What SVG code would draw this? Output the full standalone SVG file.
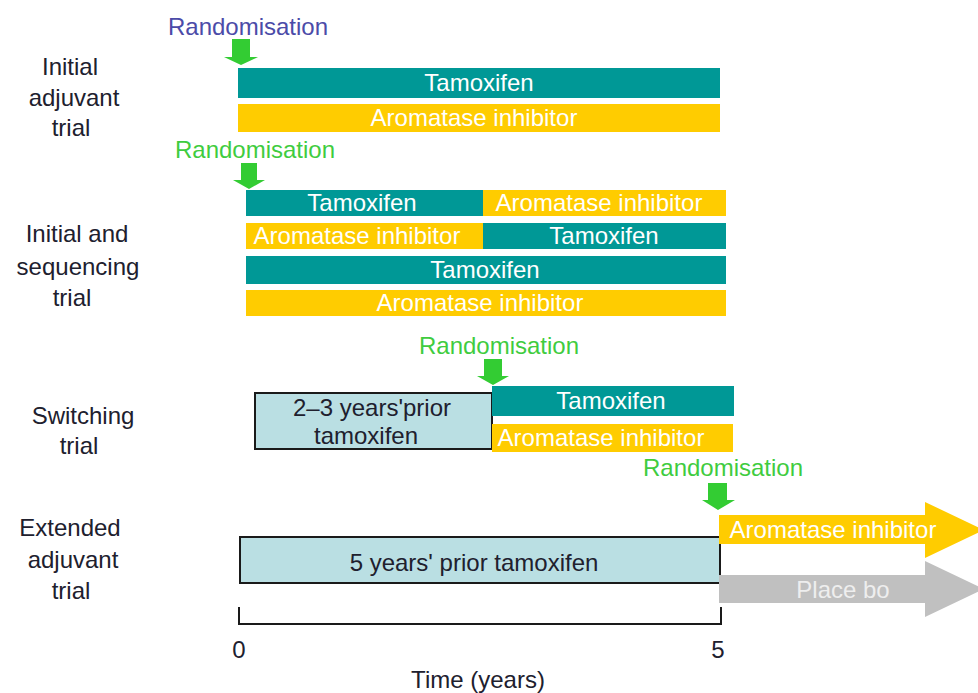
<svg xmlns="http://www.w3.org/2000/svg" width="978" height="693" viewBox="0 0 978 693">
<style>
text{font-family:"Liberation Sans",Arial,sans-serif;font-size:24px;text-anchor:middle}
.lbl{fill:#20202e}
.rnd{fill:#3fcc3f}
.rndp{fill:#4b4ba8}
.bt{fill:#ffffff}
.tam{fill:#009896}
.ai{fill:#ffcc00}
.pri{fill:#badfe3;stroke:#1a1a1a;stroke-width:2}
.ga{fill:#33cc33}
.pb{fill:#c0c0c0}
</style>
<rect width="978" height="693" fill="#ffffff"/>
<g id="labels">
<text class="lbl" x="70" y="75">Initial</text>
<text class="lbl" x="74" y="106">adjuvant</text>
<text class="lbl" x="71" y="136">trial</text>
<text class="lbl" x="77" y="242">Initial and</text>
<text class="lbl" x="78" y="275">sequencing</text>
<text class="lbl" x="72" y="306">trial</text>
<text class="lbl" x="83" y="424">Switching</text>
<text class="lbl" x="79" y="454">trial</text>
<text class="lbl" x="70" y="536">Extended</text>
<text class="lbl" x="73" y="568">adjuvant</text>
<text class="lbl" x="71" y="599">trial</text>
</g>
<g id="randomisation-labels">
<text class="rndp" x="248" y="35">Randomisation</text>
<text class="rnd" x="255" y="158">Randomisation</text>
<text class="rnd" x="499" y="354">Randomisation</text>
<text class="rnd" x="723" y="476">Randomisation</text>
</g>
<g id="connectors">
<path class="ga" d="M232,39 H250 V57 H258 L241,65 L224,57 H232 Z"/>
<path class="ga" d="M241,163 H257 V180 H265 L249,189 L233,180 H241 Z"/>
<path class="ga" d="M484,359 H502 V376 H509 L493,385 L477,376 H484 Z"/>
<path class="ga" d="M708,483 H727 V500 H735 L718,510 L702,500 H708 Z"/>
</g>
<g id="initial-adjuvant">
<rect class="tam" x="238" y="68" width="482" height="30"/>
<text class="bt" x="479" y="91">Tamoxifen</text>
<rect class="ai" x="238" y="104" width="482" height="28"/>
<text class="bt" x="474" y="126">Aromatase inhibitor</text>
</g>
<g id="initial-sequencing">
<rect class="tam" x="246" y="190" width="237" height="26"/>
<text class="bt" x="362" y="211">Tamoxifen</text>
<rect class="ai" x="483" y="190" width="243" height="26"/>
<text class="bt" x="599" y="211">Aromatase inhibitor</text>
<rect class="ai" x="246" y="223" width="237" height="26"/>
<text class="bt" x="357" y="244">Aromatase inhibitor</text>
<rect class="tam" x="483" y="223" width="243" height="26"/>
<text class="bt" x="604" y="244">Tamoxifen</text>
<rect class="tam" x="246" y="256" width="480" height="28"/>
<text class="bt" x="485" y="278">Tamoxifen</text>
<rect class="ai" x="246" y="290" width="480" height="26"/>
<text class="bt" x="480" y="311">Aromatase inhibitor</text>
</g>
<g id="switching">
<rect class="pri" x="255" y="393" width="237" height="56"/>
<text class="lbl" x="372" y="416">2–3 years'prior</text>
<text class="lbl" x="366" y="444">tamoxifen</text>
<rect class="tam" x="492" y="386" width="242" height="30"/>
<text class="bt" x="611" y="409">Tamoxifen</text>
<rect class="ai" x="492" y="424" width="241" height="28"/>
<text class="bt" x="601" y="446">Aromatase inhibitor</text>
</g>
<g id="extended">
<rect class="pri" x="240" y="537" width="480" height="46"/>
<text class="lbl" x="474" y="571">5 years' prior tamoxifen</text>
<path class="ai" d="M719,515 H925 V502 L984,530 L925,558 V544 H719 Z"/>
<text class="bt" x="833" y="538">Aromatase inhibitor</text>
<path class="pb" d="M719,575 H925 V561 L984,589 L925,617 V603 H719 Z"/>
<text x="843" y="598" fill="#eeeeee">Place bo</text>
</g>
<g id="axis">
<path d="M239,607 V624 H721 V607" fill="none" stroke="#1a1a1a" stroke-width="2"/>
<text class="lbl" x="239" y="658">0</text>
<text class="lbl" x="718" y="658">5</text>
<text class="lbl" x="478" y="688">Time (years)</text>
</g>
</svg>
